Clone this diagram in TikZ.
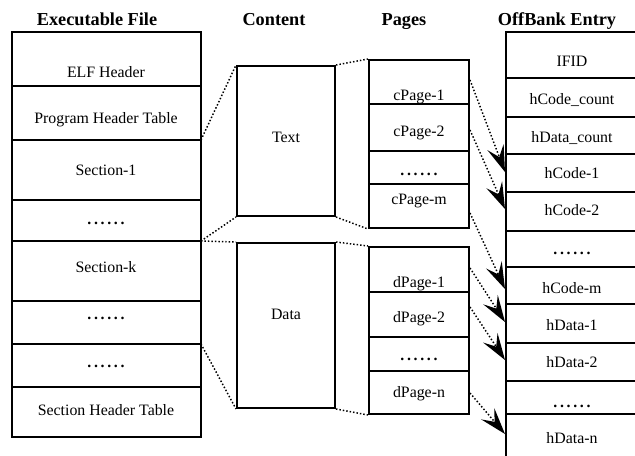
\documentclass[tikz,border=0pt]{standalone}
\usepackage{fontspec}
\setmainfont{Liberation Serif}
\usetikzlibrary{arrows.meta,fit}

% six spaced bold dots used as "and so on" rows
\newcommand{\rowdots}{\textbf{.\,.\,.\,.\,.\,.}}

\begin{document}
\begin{tikzpicture}[x=0.75pt,y=-0.75pt,
  box/.style={draw,line width=1.5pt,inner sep=0pt},
  divider/.style={line width=1pt},
  cell/.style={anchor=base,inner sep=0pt,font=\fontsize{11.9}{14}\selectfont},
  heading/.style={anchor=base,inner sep=0pt,font=\fontsize{13.7}{16}\selectfont\bfseries},
  link/.style={line width=1.1pt,dash pattern=on 1.1pt off 1.5pt},
  ptr/.style={line width=1.1pt,dash pattern=on 1.1pt off 1.5pt,
    -{Stealth[length=20pt,width=13pt,inset=8pt,line width=0pt]}}]

\useasboundingbox (0,0) rectangle (635,455);
\clip (0,0) rectangle (635,455);

% column headings
\node[heading] (hexe)  at (97,25)  {Executable File};
\node[heading] (hcont) at (274,25) {Content};
\node[heading] (hpage) at (404,25) {Pages};
\node[heading] (hbank) at (557,25) {OffBank Entry};

% executable file layout
\node[box,fit={(12,32)(201,437)}] (exe) {};
\foreach \y in {86,140,200,241,301,344,387}
  \draw[divider] (12,\y) -- (201,\y);
\node[cell] (elf)  at (106,77)  {ELF Header};
\node[cell] (pht)  at (106,123) {Program Header Table};
\node[cell] (sec1) at (106,175) {Section-1};
\node[cell] (dots1) at (106,224) {\rowdots};
\node[cell] (seck) at (106,272) {Section-k};
\node[cell] (dots2) at (106,319) {\rowdots};
\node[cell] (dots3) at (106,367) {\rowdots};
\node[cell] (sht)  at (106,415) {Section Header Table};

% content segments
\node[box,fit={(237,66)(335,216)}] (txt) {};
\node[cell] (txtlabel) at (286,142) {Text};
\node[box,fit={(237,243)(335,408)}] (dat) {};
\node[cell] (datlabel) at (286,319) {Data};

% code pages
\node[box,fit={(369,60)(469,228)}] (cpg) {};
\foreach \y in {104,151,184}
  \draw[divider] (369,\y) -- (469,\y);
\node[cell] (cp1) at (419,100) {cPage-1};
\node[cell] (cp2) at (419,136) {cPage-2};
\node[cell] (cpd) at (419,175) {\rowdots};
\node[cell] (cpm) at (419,204) {cPage-m};

% data pages
\node[box,fit={(369,247)(469,414)}] (dpg) {};
\foreach \y in {292,337,371}
  \draw[divider] (369,\y) -- (469,\y);
\node[cell] (dp1) at (419,287) {dPage-1};
\node[cell] (dp2) at (419,322) {dPage-2};
\node[cell] (dpd) at (419,360) {\rowdots};
\node[cell] (dpn) at (419,397) {dPage-n};

% OffBank entry (runs past the page edge)
\node[box,fit={(506,32)(650,475)}] (bank) {};
\foreach \y in {78,117,154,192,231,267,304,343,381,414}
  \draw[divider] (506,\y) -- (650,\y);
\node[cell] (ifid) at (572,66)  {IFID};
\node[cell] (hcc)  at (572,104) {hCode\_count};
\node[cell] (hdc)  at (572,142) {hData\_count};
\node[cell] (hc1)  at (572,178) {hCode-1};
\node[cell] (hc2)  at (572,215) {hCode-2};
\node[cell] (hcd)  at (572,254) {\rowdots};
\node[cell] (hcm)  at (572,293) {hCode-m};
\node[cell] (hd1)  at (572,330) {hData-1};
\node[cell] (hd2)  at (572,367) {hData-2};
\node[cell] (hdd)  at (572,407) {\rowdots};
\node[cell] (hdn)  at (572,443) {hData-n};

% section boundaries that map to segments
\coordinate (e140) at (201,140);
\coordinate (e241) at (201,241);
\coordinate (e344) at (201,344);
\draw[link] (e140) -- (txt.north west);
\draw[link] (e241) -- (txt.south west);
\draw[link] (e241) -- (dat.north west);
\draw[link] (e344) -- (dat.south west);
\draw[link] (txt.north east) -- (cpg.north west);
\draw[link] (txt.south east) -- (cpg.south west);
\draw[link] (dat.north east) -- (dpg.north west);
\draw[link] (dat.south east) -- (dpg.south west);

% page to entry pointers
\coordinate (s1) at (470,80);
\coordinate (s2) at (470,130);
\coordinate (s3) at (470,213);
\coordinate (s4) at (470,268);
\coordinate (s5) at (470,307);
\coordinate (s6) at (470,393);
\coordinate (t1) at (505,172);
\coordinate (t2) at (505,209);
\coordinate (t3) at (505,289);
\coordinate (t4) at (505,322);
\coordinate (t5) at (505,360);
\coordinate (t6) at (505,434);
\foreach \i in {1,...,6}
  \draw[ptr] (s\i) -- (t\i);
\end{tikzpicture}
\end{document}
